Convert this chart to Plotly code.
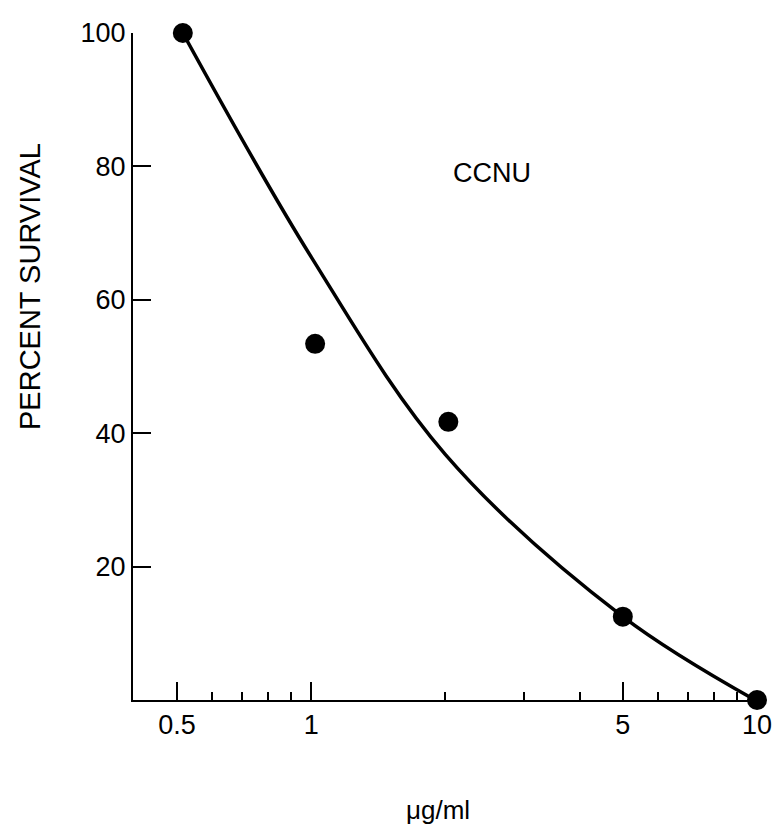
import plotly.graph_objects as go

# measured data points
dose = [0.515, 1.02, 2.03, 5.0, 10.0]
survival = [100, 53.4, 41.7, 12.5, 0]

# fitted curve
curve_x = [0.515, 1.0, 2.0, 5.0, 9.9]
curve_y = [100, 66.4, 36.8, 12.5, 0]

x_tickvals = [0.5, 1, 5, 10]
x_ticktext = ["0.5", "1", "5", "10"]
x_minor = [0.6, 0.7, 0.8, 0.9, 2, 3, 4, 6, 7, 8, 9]
y_tickvals = [20, 40, 60, 80, 100]

FONT = "Liberation Sans, Arial, Helvetica, sans-serif"

fig = go.Figure()
fig.add_trace(go.Scatter(x=curve_x, y=curve_y, mode="lines",
                         line=dict(color="black", width=3.5, shape="spline", smoothing=1.0),
                         cliponaxis=False, hoverinfo="skip"))
fig.add_trace(go.Scatter(x=dose, y=survival, mode="markers",
                         marker=dict(color="black", size=20),
                         cliponaxis=False))

L, R, T, B = 133, 19, 33, 127
W, H = 776, 827
pw = W - L - R
ph = H - T - B

fig.update_layout(
    width=W, height=H,
    margin=dict(l=L, r=R, t=T, b=B, autoexpand=False),
    plot_bgcolor="white", paper_bgcolor="white",
    showlegend=False,
    font=dict(family=FONT, color="black", size=27),
    xaxis=dict(type="log", range=[-0.4, 1.0], automargin=False,
               tickmode="array", tickvals=x_tickvals, ticktext=x_ticktext,
               ticks="inside", ticklen=18, tickwidth=2, tickcolor="black",
               showline=True, linecolor="black", linewidth=2,
               showgrid=False, zeroline=False,
               tickfont=dict(size=27),
               minor=dict(tickmode="array", tickvals=x_minor, ticks="inside",
                          ticklen=8, tickwidth=2, tickcolor="black", showgrid=False)),
    yaxis=dict(range=[0, 100], tickmode="array", tickvals=y_tickvals, automargin=False,
               ticks="inside", ticklen=18, tickwidth=2, tickcolor="black",
               showline=True, linecolor="black", linewidth=2,
               showgrid=False, zeroline=False,
               tickfont=dict(size=27)),
    annotations=[
        dict(text="CCNU", x=0.4045, y=79, xref="x", yref="y", showarrow=False,
             font=dict(size=27)),
        dict(text="μg/ml", x=(438 - L) / pw, y=(H - B - 810) / ph,
             xref="paper", yref="paper", xanchor="center", yanchor="middle",
             showarrow=False, font=dict(size=26)),
        dict(text="PERCENT SURVIVAL", textangle=-90, showarrow=False,
             font=dict(size=29), xref="paper", yref="paper",
             x=(30 - L) / pw, y=(H - B - 287) / ph,
             xanchor="center", yanchor="middle"),
    ],
)

fig.write_html("out.html", config={"displayModeBar": False},
               post_script="document.body.style.margin='0';document.body.style.padding='0';")
